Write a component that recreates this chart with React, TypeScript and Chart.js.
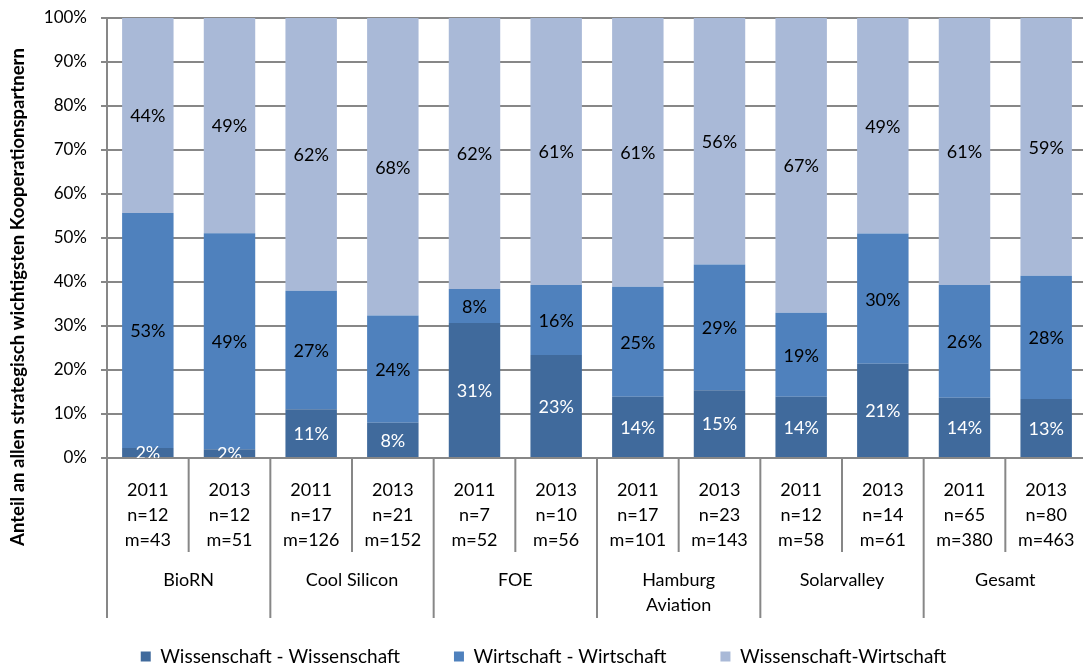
import React, { useEffect, useRef } from 'react';
import { Chart, registerables } from 'chart.js';

Chart.register(...registerables);

const years = ['2011', '2013', '2011', '2013', '2011', '2013', '2011', '2013', '2011', '2013', '2011', '2013'];
const nValues = [12, 12, 17, 21, 7, 10, 17, 23, 12, 14, 65, 80];
const mValues = [43, 51, 126, 152, 52, 56, 101, 143, 58, 61, 380, 463];
const groupLabels = [['BioRN'], ['Cool Silicon'], ['FOE'], ['Hamburg', 'Aviation'], ['Solarvalley'], ['Gesamt']];

const seriesNames = ['Wissenschaft - Wissenschaft', 'Wirtschaft - Wirtschaft', 'Wissenschaft-Wirtschaft'];
const wissWiss = [2.3, 2.0, 11.1, 8.0, 30.7, 23.4, 13.9, 15.4, 13.9, 21.4, 13.7, 13.4];
const wirtWirt = [53.4, 49.1, 26.9, 24.4, 7.7, 15.9, 25.0, 28.6, 19.1, 29.6, 25.6, 28.0];
const wissWirt = [44.3, 48.9, 62.0, 67.6, 61.6, 60.7, 61.1, 56.0, 67.0, 49.0, 60.7, 58.6];

const colors = ['#406A9C', '#4F81BD', '#A9B9D7'];
const labelColors = ['#FFFFFF', '#000000', '#000000'];
const yTitle = 'Anteil an allen strategisch wichtigsten Kooperationspartnern';

const FONT = 'Lato';
const GRID = '#878787';

const overlayPlugin = {
  id: 'overlay',
  afterDatasetsDraw(chart: any) {
    const { ctx, chartArea } = chart;
    ctx.save();
    ctx.beginPath();
    ctx.rect(chartArea.left, chartArea.top, chartArea.right - chartArea.left, chartArea.bottom - chartArea.top);
    ctx.clip();
    ctx.font = `18px ${FONT}`;
    ctx.textAlign = 'center';
    ctx.textBaseline = 'middle';
    chart.data.datasets.forEach((ds: any, di: number) => {
      const meta = chart.getDatasetMeta(di);
      meta.data.forEach((bar: any, i: number) => {
        const v = ds.data[i];
        const cy = (bar.y + bar.base) / 2;
        ctx.fillStyle = labelColors[di];
        ctx.fillText(`${Math.round(v)}%`, bar.x, cy + 1);
      });
    });
    ctx.restore();
  },
  afterDraw(chart: any) {
    const { ctx, chartArea, scales } = chart;
    const x = scales.x;
    const bottom = chartArea.bottom;
    ctx.save();
    ctx.strokeStyle = GRID;
    ctx.lineWidth = 2;
    ctx.beginPath();
    ctx.moveTo(chartArea.left, chartArea.top);
    ctx.lineTo(chartArea.left, bottom + 160);
    ctx.stroke();
    for (let i = 1; i < years.length; i++) {
      const sx = (x.getPixelForValue(i - 1) + x.getPixelForValue(i)) / 2;
      ctx.beginPath();
      ctx.moveTo(sx, bottom);
      ctx.lineTo(sx, bottom + (i % 2 === 0 ? 160 : 94));
      ctx.stroke();
    }
    ctx.beginPath();
    ctx.moveTo(chartArea.right, bottom);
    ctx.lineTo(chartArea.right, bottom + 160);
    ctx.stroke();
    ctx.fillStyle = '#000';
    ctx.font = `18px ${FONT}`;
    ctx.textAlign = 'center';
    ctx.textBaseline = 'middle';
    groupLabels.forEach((lines, g) => {
      const cx = (x.getPixelForValue(2 * g) + x.getPixelForValue(2 * g + 1)) / 2;
      lines.forEach((t, li) => {
        ctx.fillText(t, cx, bottom + 122 + li * 25);
      });
    });
    ctx.font = `bold 18.5px ${FONT}`;
    ctx.translate(18, 297);
    ctx.rotate(-Math.PI / 2);
    ctx.fillText(yTitle, 0, 0);
    ctx.restore();
  },
};

export default function App() {
  const ref = useRef<HTMLCanvasElement | null>(null);
  useEffect(() => {
    if (!ref.current) return;
    const chart = new Chart(ref.current, {
      type: 'bar',
      data: {
        labels: years.map((y, i) => [y, `n=${nValues[i]}`, `m=${mValues[i]}`]),
        datasets: [wissWiss, wirtWirt, wissWirt].map((d, i) => ({
          label: seriesNames[i],
          data: d,
          backgroundColor: colors[i],
          borderWidth: 0,
          barPercentage: 0.63,
          categoryPercentage: 1,
        })),
      },
      options: {
        animation: false,
        responsive: false,
        devicePixelRatio: 1,
        layout: { padding: { top: 18, right: 3, left: 0, bottom: 0 } },
        plugins: {
          legend: {
            position: 'bottom',
            labels: {
              boxWidth: 10,
              boxHeight: 10,
              padding: 54,
              color: '#000',
              font: { family: FONT, size: 19 },
            },
          },
          tooltip: { enabled: false },
        },
        scales: {
          x: {
            stacked: true,
            offset: true,
            grid: { display: false },
            border: { display: false },
            ticks: {
              color: '#000',
              font: { family: FONT, size: 18, lineHeight: 25 / 18 },
              maxRotation: 0,
              autoSkip: false,
              padding: 12,
            },
            afterFit: (s: any) => { s.height = 135; s.paddingLeft = 0; s.paddingRight = 0; },
          },
          y: {
            stacked: true,
            min: 0,
            max: 100,
            ticks: {
              stepSize: 10,
              color: '#000',
              font: { family: FONT, size: 17 },
              padding: 14,
              callback: (v: any) => `${v}%`,
            },
            grid: { color: GRID, lineWidth: 2, tickLength: 6 },
            border: { display: false },
            afterFit: (s: any) => { s.width = 107; s.paddingTop = 0; s.paddingBottom = 0; },
          },
        },
      },
      plugins: [overlayPlugin],
    });
    return () => chart.destroy();
  }, []);
  return (
    <div style={{ position: 'fixed', left: 0, top: 0, width: 1090, height: 676, background: '#fff' }}>
      <canvas ref={ref} width={1090} height={676} />
    </div>
  );
}
